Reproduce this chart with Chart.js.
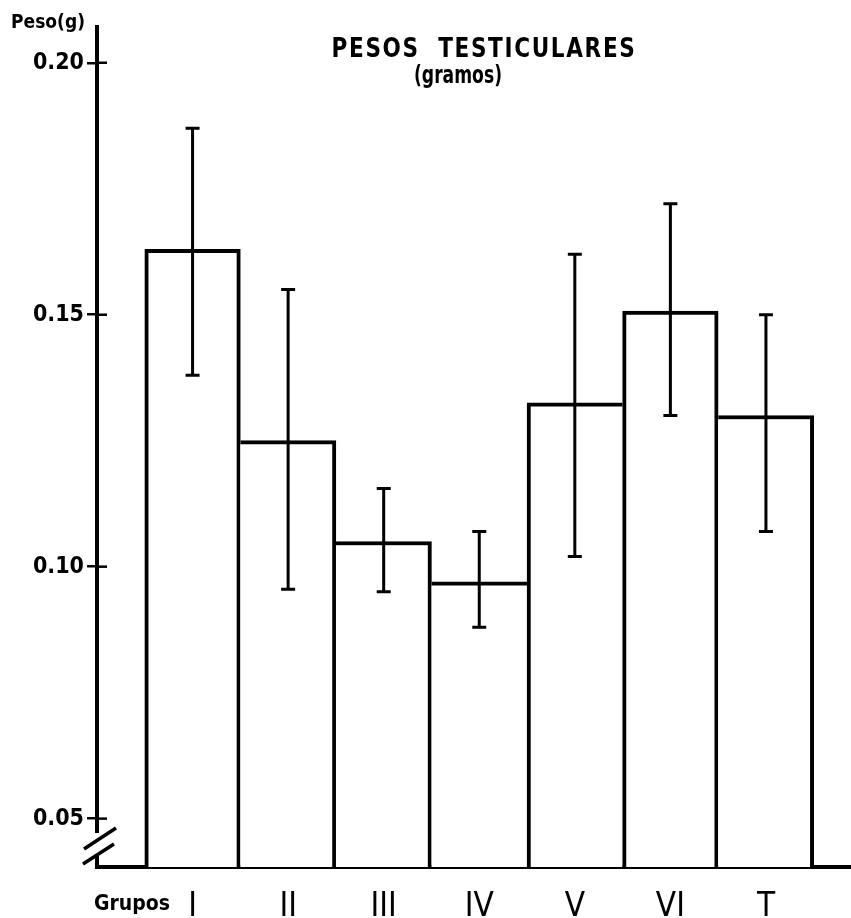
<!DOCTYPE html>
<html>
<head>
<meta charset="utf-8">
<script src="https://cdn.jsdelivr.net/npm/chart.js@4"></script>
<style>
  html, body { margin: 0; padding: 0; background: #fff; }
  #wrap { width: 851px; height: 918px; }
</style>
</head>
<body>
<div id="wrap"><canvas id="myChart" width="851" height="918"></canvas></div>
<script>
const groups = ["I", "II", "III", "IV", "V", "VI", "T"];
const means = [0.163, 0.125, 0.105, 0.097, 0.1325, 0.1507, 0.130];
const errHigh = [0.187, 0.155, 0.1155, 0.107, 0.162, 0.172, 0.150];
const errLow = [0.138, 0.0955, 0.095, 0.088, 0.102, 0.130, 0.107];
const yTicks = [0.05, 0.10, 0.15, 0.20];

const INK = "#000";
const narrow = "'Liberation Sans Narrow', 'DejaVu Sans Condensed', 'DejaVu Sans', sans-serif";

// shared edges between bars are drawn once, by the taller bar
const edges = (ctx) => {
  const i = ctx.dataIndex;
  const v = means[i];
  const left = i === 0 || v >= means[i - 1] ? 4 : 0;
  const right = i === means.length - 1 || v > means[i + 1] ? 4 : 0;
  return { top: 4, left: left, right: right, bottom: 0 };
};

// text squeezed to a given width, like the hand lettering
const fitText = (ctx, text, cx, y, width) => {
  const w = ctx.measureText(text).width;
  ctx.save();
  ctx.translate(cx, y);
  ctx.scale(width / w, 1);
  ctx.fillText(text, 0, 0);
  ctx.restore();
};

const extras = {
  id: "extras",
  afterDatasetsDraw(chart) {
    const { ctx, scales: { x, y } } = chart;
    ctx.save();
    ctx.strokeStyle = INK;
    ctx.lineWidth = 3;
    ctx.lineCap = "butt";
    groups.forEach((g, i) => {
      const px = x.getPixelForValue(i);
      const top = y.getPixelForValue(errHigh[i]);
      const bot = y.getPixelForValue(errLow[i]);
      ctx.beginPath();
      ctx.moveTo(px, top);
      ctx.lineTo(px, bot);
      ctx.moveTo(px - 7, top);
      ctx.lineTo(px + 7, top);
      ctx.moveTo(px - 7, bot);
      ctx.lineTo(px + 7, bot);
      ctx.stroke();
    });
    ctx.restore();
  },
  afterDraw(chart) {
    const { ctx, chartArea: a, scales: { y } } = chart;
    ctx.save();
    ctx.strokeStyle = INK;
    ctx.fillStyle = INK;
    // inner half of the y tick marks
    ctx.lineWidth = 2.5;
    yTicks.forEach((v) => {
      const py = y.getPixelForValue(v);
      ctx.beginPath();
      ctx.moveTo(a.left, py);
      ctx.lineTo(a.left + 10, py);
      ctx.stroke();
    });
    // axis break
    ctx.fillStyle = "#fff";
    ctx.fillRect(a.left - 4, a.bottom - 34, 8, 21);
    ctx.lineWidth = 3.5;
    ctx.beginPath();
    ctx.moveTo(a.left - 13, a.bottom - 18);
    ctx.lineTo(a.left + 19, a.bottom - 39);
    ctx.moveTo(a.left - 14, a.bottom - 3);
    ctx.lineTo(a.left + 17, a.bottom - 23);
    ctx.stroke();

    ctx.fillStyle = INK;
    ctx.textAlign = "center";
    ctx.textBaseline = "alphabetic";
    ctx.font = "bold 19px " + narrow;
    ctx.fillText("Peso(g)", 48, 28);
    ctx.font = "bold 21px " + narrow;
    ctx.fillText("Grupos", 132, 910);
    ctx.font = "600 26px 'DejaVu Sans', sans-serif";
    ctx.letterSpacing = "2px";
    fitText(ctx, "PESOS  TESTICULARES", 484, 57, 305);
    ctx.letterSpacing = "0px";
    ctx.font = "600 24px 'DejaVu Sans', sans-serif";
    fitText(ctx, "(gramos)", 458, 83, 88);
    ctx.restore();
  },
};

const ctx = document.getElementById("myChart");
new Chart(ctx, {
  type: "bar",
  data: {
    datasets: [{
      data: means.map((v, i) => ({ x: i, y: v })),
      backgroundColor: "#fff",
      borderColor: INK,
      borderWidth: edges,
      borderSkipped: false,
      barPercentage: 1,
      categoryPercentage: 1,
    }],
  },
  options: {
    responsive: false,
    animation: false,
    layout: { padding: { top: 27, left: 0, right: 0, bottom: 0 } },
    plugins: { legend: { display: false }, tooltip: { enabled: false } },
    scales: {
      x: {
        type: "linear",
        offset: false,
        min: -1.0,
        max: 6.89,
        z: 1,
        grid: { display: false, offset: false },
        border: { display: true, color: INK, width: 4 },
        afterBuildTicks: (s) => { s.ticks = groups.map((g, i) => ({ value: i })); },
        afterFit: (s) => { s.height = 51; },
        ticks: {
          padding: 13,
          color: INK,
          font: { family: narrow, size: 33 },
          callback: (value) => groups[value] ?? "",
        },
      },
      y: {
        min: 0.0404,
        max: 0.2071,
        z: 1,
        grid: { drawOnChartArea: false, drawTicks: true, tickLength: 10, color: INK, lineWidth: 2.5 },
        border: { display: true, color: INK, width: 4 },
        afterBuildTicks: (s) => { s.ticks = yTicks.map((v) => ({ value: v })); },
        afterFit: (s) => { s.width = 97; },
        ticks: {
          padding: 3,
          color: INK,
          font: { family: narrow, size: 23, weight: "bold" },
          callback: (value) => value.toFixed(2),
        },
      },
    },
  },
  plugins: [extras],
});
</script>
</body>
</html>
